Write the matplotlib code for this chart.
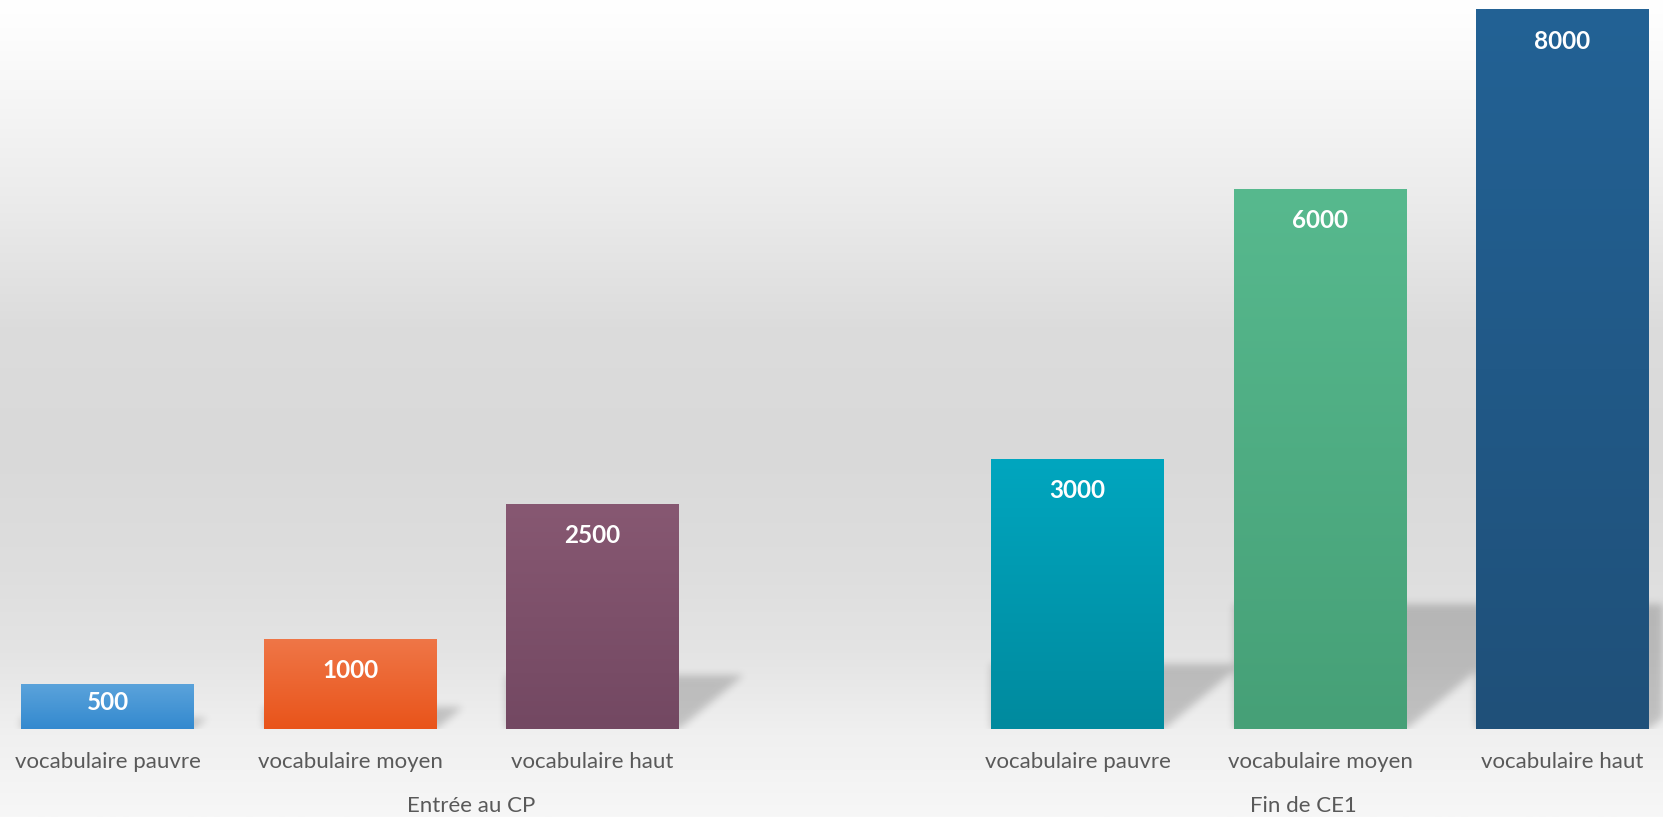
import numpy as np
import matplotlib
matplotlib.use('Agg')
import matplotlib.pyplot as plt
from matplotlib.colors import to_rgb

plt.rcParams['font.family'] = ['Lato', 'DejaVu Sans']

# data
groups = ['Entrée au CP', 'Fin de CE1']
categories = ['vocabulaire pauvre', 'vocabulaire moyen', 'vocabulaire haut']
values_cp = [500, 1000, 2500]
values_ce1 = [3000, 6000, 8000]

top_colors = ['#5BA3DB', '#EF7647', '#875872', '#00A6BF', '#57B98E', '#236295']
bottom_colors = ['#3389CF', '#E9541A', '#734862', '#008A9E', '#46A077', '#1F5079']

values = values_cp + values_ce1
labels = categories * 2
positions = [0, 1, 2, 4, 5, 6]
group_pos = [1.5, 4.93]

W, H = 1663, 817
base_px = 88
fig = plt.figure(figsize=(W / 100, H / 100), dpi=100)

# background gradient
bg = fig.add_axes([0, 0, 1, 1])
bg.axis('off')
stops_y = [0, 0.05, 0.24, 0.4, 0.55, 0.7, 0.8, 0.9, 1.0]
stops_v = [255, 252, 236, 220, 217, 222, 228, 240, 247]
g = np.interp(np.linspace(0, 1, H), stops_y, stops_v) / 255
bg.imshow(np.repeat(g[:, None, None], 3, axis=2), aspect='auto', extent=(0, 1, 0, 1))
bg.set_xlim(0, 1)
bg.set_ylim(0, 1)

ax = fig.add_axes([0, base_px / H, 1, (H - base_px) / H])
ax.patch.set_alpha(0)
xlim = (-0.4433, 6.4144)
ylim = (0, 8105.6)

bars = ax.bar(positions, values, width=0.713, color=bottom_colors, zorder=2)
for bar, c_top, c_bot in zip(bars, top_colors, bottom_colors):
    t = np.linspace(0, 1, 256)[:, None, None]
    img = (1 - t) * np.array(to_rgb(c_bot)) + t * np.array(to_rgb(c_top))
    x0 = bar.get_x()
    im = ax.imshow(img, origin='lower', aspect='auto', zorder=3,
                   extent=(x0, x0 + bar.get_width(), 0, bar.get_height()))
    im.set_clip_path(bar)

ax.set_xlim(*xlim)
ax.set_ylim(*ylim)
ax.axis('off')

# soft shadows on the floor
aw, ah = W, H - base_px
X, Y = np.meshgrid(np.arange(aw) + 0.5, np.arange(ah) + 0.5)
mask = np.zeros((ah, aw))
for bar in bars:
    (xl, b0), (xr, b1) = ax.transData.transform(
        [(bar.get_x(), 0), (bar.get_x() + bar.get_width(), bar.get_height())])
    b0 -= base_px
    b1 -= base_px
    hpx = b1 - b0
    s = min(0.24 * hpx, 125)
    d = 1.2 * s
    yr = Y - b0
    m = (X >= xl) & (yr >= 0) & (yr <= s) & (yr >= (X - xr) * s / d) & (X <= xr + d)
    mask = np.maximum(mask, m)


def blur(a, sigma):
    k = np.exp(-0.5 * (np.arange(-3 * sigma, 3 * sigma + 1) / sigma) ** 2)
    k /= k.sum()
    a = np.apply_along_axis(lambda r: np.convolve(r, k, mode='same'), 1, a)
    a = np.apply_along_axis(lambda c: np.convolve(c, k, mode='same'), 0, a)
    return a


sh = blur(mask, 4) * (Y >= 0)
rgba = np.zeros((ah, aw, 4))
rgba[..., 3] = sh * 0.19
ax.imshow(rgba, origin='lower', aspect='auto', zorder=1,
          extent=(xlim[0], xlim[1], ylim[0], ylim[1]))
ax.set_xlim(*xlim)
ax.set_ylim(*ylim)

# labels
for p, v in zip(positions, values):
    ax.text(p, max(v - 434, 0.42 * v), str(v), ha='center', va='baseline',
            color='white', fontsize=17.5, fontweight='bold', zorder=4)

for p, lab in zip(positions, labels):
    ax.text(p, -39 / ah, lab, transform=ax.get_xaxis_transform(),
            ha='center', va='baseline', fontsize=16, color='#595959')

for p, grp in zip(group_pos, groups):
    ax.text(p, -83 / ah, grp, transform=ax.get_xaxis_transform(),
            ha='center', va='baseline', fontsize=16, color='#595959')

fig.savefig('out.png', dpi=100)
